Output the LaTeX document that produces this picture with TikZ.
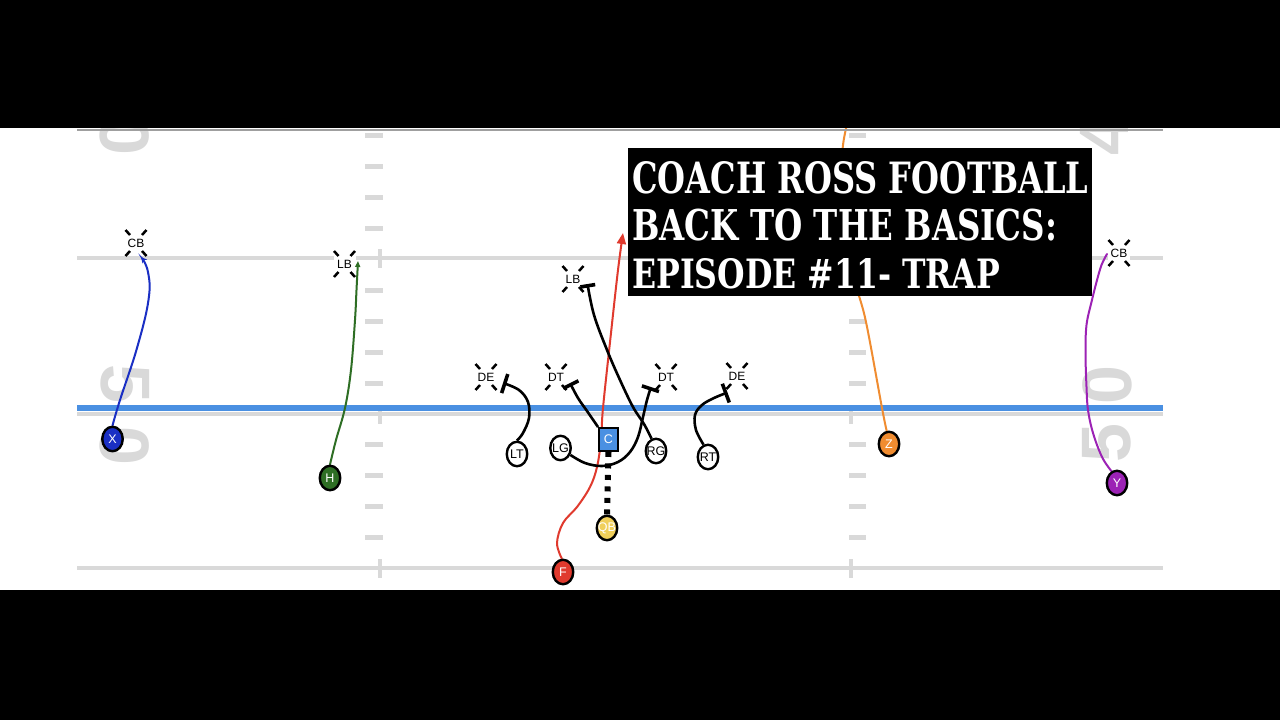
\documentclass[tikz,border=0pt]{standalone}
\usepackage{fontspec}
\usepackage{graphicx}
\setmainfont{Liberation Sans}
\newfontfamily\titlefont{DejaVu Serif}
\newfontfamily\numfont{Liberation Sans}
\usetikzlibrary{arrows.meta,calc,shapes.geometric}
\pgfdeclarelayer{field}
\pgfdeclarelayer{routes}
\pgfdeclarelayer{top}
\pgfsetlayers{field,routes,main,top}
\definecolor{fieldgrey}{HTML}{D9D9D9}
\definecolor{losblue}{HTML}{4A90E2}
\definecolor{xblue}{HTML}{1A2FC4}
\definecolor{hgreen}{HTML}{2E6E24}
\definecolor{cblue}{HTML}{4A90E2}
\definecolor{qbyellow}{HTML}{F0CF5A}
\definecolor{fred}{HTML}{E03A2E}
\definecolor{zorange}{HTML}{F08C30}
\definecolor{ypurple}{HTML}{9C22B5}
\newcommand{\lbl}[1]{\makebox[0pt]{#1}}
\begin{document}
\begin{tikzpicture}[x=1pt,y=-1pt,
  fieldline/.style={draw=fieldgrey,line width=4pt},
  hashmark/.style={draw=fieldgrey,line width=5pt},
  yardnum/.style={text=fieldgrey,font=\numfont\bfseries\fontsize{70}{70}\selectfont,inner sep=0pt},
  player/.style={ellipse,draw=black,line width=2.4pt,minimum width=20.5pt,minimum height=24.5pt,inner sep=0pt,font=\fontsize{12.5}{12.5}\selectfont},
  centerbox/.style={rectangle,draw=black,line width=2.4pt,minimum width=18.5pt,minimum height=22.5pt,inner sep=0pt,font=\fontsize{12.5}{12.5}\selectfont},
  defender/.style={fill=white,inner sep=0pt,minimum width=22pt,minimum height=20pt,font=\fontsize{12}{12}\selectfont},
  dtick/.style={draw=black,line width=2.5pt},
  route/.style={line width=2pt,line cap=round},
  blockline/.style={draw=black,line width=2.6pt},
  titleline/.style={anchor=base west,inner sep=0pt,text=white}
]
\useasboundingbox (0,0) rectangle (1280,720);

\begin{pgfonlayer}{field}
\fill[black] (0,0) rectangle (1280,720);
\fill[white] (0,128) rectangle (1280,590);
% yard numbers
\node[yardnum,rotate=-90] (n50a) at (125,383.5) {5};
\node[yardnum,rotate=-90] (n50b) at (125,445.5) {0};
\node[yardnum,rotate=-90] (n40b) at (125,136) {0};
\node[yardnum,rotate=90] (m50b) at (1107,385) {0};
\node[yardnum,rotate=90] (m50a) at (1107,443) {5};
\node[yardnum,rotate=90] (m40a) at (1104,136) {4};
% field lines
\foreach \yy in {258,414,568} \draw[fieldline] (77,\yy) -- (1163,\yy);
\foreach \k in {-9,-8,-7,-6,-4,-3,-2,-1,1,2,3,4} {
  \draw[hashmark] (365,{414+30.9*\k}) -- (383,{414+30.9*\k});
  \draw[hashmark] (849,{414+30.9*\k}) -- (866,{414+30.9*\k});
}
\foreach \yy in {258,414,568} {
  \draw[hashmark,line width=4.5pt] (380,\yy-9) -- (380,\yy+10);
  \draw[hashmark,line width=4.5pt] (851,\yy-9) -- (851,\yy+10);
}
\draw[draw=losblue,line width=6pt] (77,408) -- (1163,408);
% defenders
\node[defender] (cbL) at (136,243) {CB};
\node[defender] (lbL) at (344.5,264) {LB};
\node[defender] (lbM) at (573,279) {LB};
\node[defender] (deL) at (486,377) {DE};
\node[defender] (dtL) at (556,377) {DT};
\node[defender] (dtR) at (666,377) {DT};
\node[defender] (deR) at (737,376) {DE};
\node[defender] (cbR) at (1119,253) {CB};
\foreach \n in {cbL,lbL,lbM,deL,dtL,dtR,deR,cbR} {
  \foreach \sx/\sy in {1/1,1/-1,-1/1,-1/-1} {
    \draw[dtick] ($(\n)+(6*\sx,8*\sy)$) -- ($(\n)+(10.5*\sx,13*\sy)$);
  }
}
\end{pgfonlayer}

% offensive players
\node[player,fill=xblue,text=white] (X) at (112.5,439) {\lbl{X}};
\node[player,fill=hgreen,text=white] (H) at (330,478) {\lbl{H}};
\node[player,fill=white] (LT) at (517,454) {\lbl{LT}};
\node[player,fill=white] (LG) at (560.5,448) {\lbl{LG}};
\node[centerbox,fill=cblue,text=white] (C) at (608.5,439.5) {C};
\node[player,fill=white] (RG) at (656,451) {\lbl{RG}};
\node[player,fill=white] (RT) at (708,457) {\lbl{RT}};
\node[player,fill=qbyellow,text=white] (QB) at (607,528) {\lbl{QB}};
\node[player,fill=fred,text=white] (F) at (563,572) {\lbl{F}};
\node[player,fill=zorange,text=white] (Z) at (889,444) {\lbl{Z}};
\node[player,fill=ypurple,text=white] (Y) at (1117,483) {\lbl{Y}};

% route end points
\coordinate (cbLend) at ($(cbL)+(5,14)$);
\coordinate (lbLend) at ($(lbL)+(13.5,-3)$);
\coordinate (fEnd) at (623,233);
\coordinate (zEnd) at (847,124);
\coordinate (yEnd) at ($(cbR)+(-12,1)$);
\coordinate (deLbar) at ($(deL)+(17,6)$);
\coordinate (dtRbar) at ($(dtR)+(-15,10)$);
\coordinate (dtLbar) at ($(dtL)+(14,6)$);
\coordinate (lbMbar) at ($(lbM)+(14.5,5)$);
\coordinate (deRbar) at ($(deR)+(-9.5,16.5)$);

\begin{pgfonlayer}{routes}
\draw[route,draw=xblue,-{Stealth[length=6pt,width=6pt]}] plot[smooth,tension=0.7] coordinates {(X.north) (120,400) (137,348) (148.5,300) (148,272) (cbLend)};
\draw[route,draw=hgreen,-{Triangle[length=6pt,width=5pt]}] plot[smooth,tension=0.6] coordinates {(H.north) (336,440) (345,408) (351,370) (355,320) (356.5,290) (lbLend)};
\draw[route,draw=fred,-{Triangle[length=11pt,width=9pt]}] plot[smooth,tension=0.6] coordinates {(F.95) (557,543) (563,523) (577,507) (590,487) (597,467) (601,440) (603,408) (611,333) (618,270) (fEnd)};
\draw[route,draw=zorange] plot[smooth,tension=0.6] coordinates {(Z.100) (882,408) (866,322) (855,280) (846,220) (842,170) (843,145) (zEnd)};
\draw[route,draw=ypurple] plot[smooth,tension=0.6] coordinates {(Y.115) (1102,457) (1093,433) (1088,410) (1086.5,387) (1085.5,353) (1086.5,325) (1091.5,302) (1096.5,282) (1101.5,265) (yEnd)};
\draw[blockline,-{Bar[width=20pt,line width=3.6pt]}] plot[smooth,tension=0.6] coordinates {(LT.north) (523,433) (529,418) (528,402) (519,390) (deLbar)};
\draw[blockline,-{Bar[width=18pt,line width=3.6pt]}] plot[smooth,tension=0.6] coordinates {(LG.-35) (585,463) (602,466) (618,462) (630,452) (638,437) (643,417) (647,400) (dtRbar)};
\draw[blockline,-{Bar[width=17pt,line width=3.6pt]}] plot[smooth,tension=0.6] coordinates {(C.north west) (587,411) (578,398) (dtLbar)};
\draw[blockline,-{Bar[width=15pt,line width=3.6pt]}] plot[smooth,tension=0.6] coordinates {(RG.110) (644,424) (633,407) (620,380) (607,350) (594,315) (lbMbar)};
\draw[blockline,-{Bar[width=20pt,line width=3.6pt]}] plot[smooth,tension=0.6] coordinates {(RT.110) (696,430) (695,415) (702,405) (714,398) (deRbar)};
\draw[black,line width=6pt,dash pattern=on 5pt off 6.5pt] (C.south) -- (QB.north);
\end{pgfonlayer}

\begin{pgfonlayer}{top}
\node[fill=black,anchor=north west,minimum width=464pt,minimum height=148pt,inner sep=0pt] (titlebox) at (628,148) {};
\node[titleline] (t1) at (632,193) {\resizebox{456pt}{32pt}{\titlefont\bfseries COACH ROSS FOOTBALL}};
\node[titleline] (t2) at (632,240) {\resizebox{425pt}{31.5pt}{\titlefont\bfseries BACK TO THE BASICS:}};
\node[titleline] (t3) at (632,288.3) {\resizebox{368pt}{30pt}{\titlefont\bfseries EPISODE \#11- TRAP}};
\fill[black] (0,0) rectangle (1280,128);
\fill[black] (0,590) rectangle (1280,720);
\draw[gray!75,line width=1.5pt] (77,130) -- (1163,130);
\end{pgfonlayer}
\end{tikzpicture}
\end{document}
